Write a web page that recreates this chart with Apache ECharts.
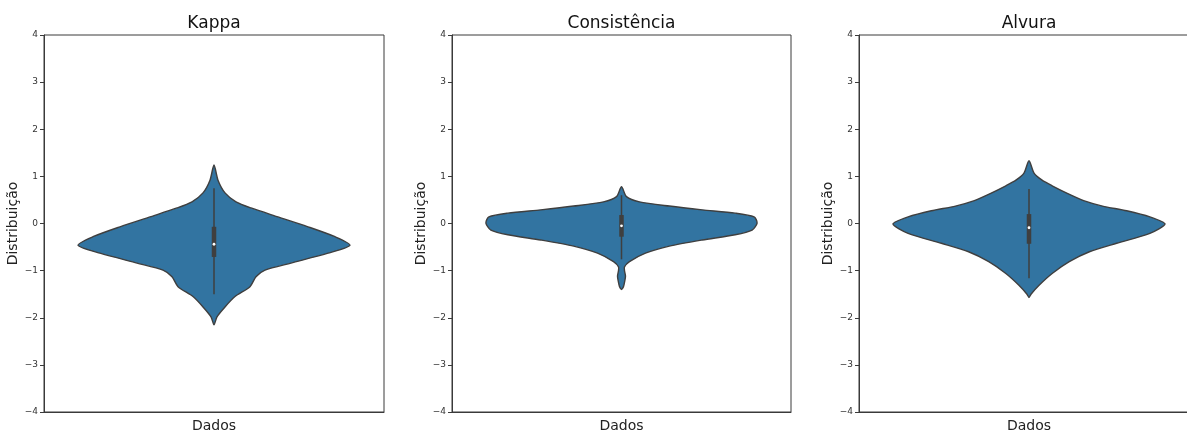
<!DOCTYPE html>
<html>
<head>
<meta charset="utf-8">
<script src="https://cdn.jsdelivr.net/npm/echarts@6/dist/echarts.min.js"></script>
<style>
  html, body { margin: 0; padding: 0; background: #fff; }
  #chart { width: 1187px; height: 432px; }
</style>
</head>
<body>
<div id="chart"></div>
<script>
// Panel titles and shared axis texts
const panelTitles = ['Kappa', 'Consistência', 'Alvura'];
const categories = ['Dados'];
const yAxisName = 'Distribuição';
const yTicks = [-4, -3, -2, -1, 0, 1, 2, 3, 4];

// Violin outlines: value on the y axis and kernel density (arbitrary units)
const kappaY = [1.24, 0.92, 0.65, 0.46, 0.33, 0.14, -0.07, -0.28, -0.46, -0.63, -0.84, -0.99, -1.13, -1.34, -1.55, -1.77, -1.98, -2.15];
const kappaD = [0, 4, 11, 22, 37, 64, 94, 121, 136, 114, 77, 51, 42, 36, 21, 11, 3, 0];

const consY = [0.78, 0.57, 0.46, 0.37, 0.29, 0.22, 0.14, 0.01, -0.14, -0.24, -0.35, -0.48, -0.63, -0.81, -0.92, -1.0, -1.12, -1.25, -1.34, -1.40];
const consD = [0, 5, 18, 48, 81, 114, 133, 136, 131, 114, 81, 48, 24, 8, 3, 3, 4, 3, 2, 0];

const alvY = [1.33, 1.07, 0.92, 0.80, 0.64, 0.48, 0.37, 0.27, 0.14, -0.01, -0.21, -0.42, -0.6, -0.81, -1.06, -1.31, -1.5, -1.57];
const alvD = [0, 5, 13, 23, 38, 55, 73, 97, 120, 135, 120, 87, 60, 40, 23, 10, 2, 0];

// Inner box: [lower whisker, Q1, median, Q3, upper whisker]
const kappaBox = [-1.5, -0.71, -0.44, -0.07, 0.75];
const consBox = [-0.76, -0.28, -0.05, 0.18, 0.6];
const alvBox = [-1.16, -0.43, -0.09, 0.2, 0.73];

const violins = [
  { y: kappaY, d: kappaD, box: kappaBox },
  { y: consY, d: consD, box: consBox },
  { y: alvY, d: alvD, box: alvBox }
];

const gridBoxes = [
  { left: 44, width: 340 },
  { left: 452, width: 339 },
  { left: 859, width: 340 }
];
const gridTop = 35, gridHeight = 377;

const FONT = '"DejaVu Sans", sans-serif';
const AXIS_COLOR = '#3a3a3a';
const VIOLIN_FILL = '#3274a1';
const VIOLIN_EDGE = '#3f3f3f';
const WIDTH_FRACTION = 0.4; // half of the 0.8 band width

const chart = echarts.init(document.getElementById('chart'), null, { renderer: 'canvas' });

function violinRenderer(v) {
  const maxD = Math.max.apply(null, v.d);
  return function (params, api) {
    const band = api.size([1, 0])[0];
    const scale = WIDTH_FRACTION * band / maxD;
    const right = [], left = [];
    for (let i = 0; i < v.y.length; i++) {
      const c = api.coord([0, v.y[i]]);
      right.push([c[0] + v.d[i] * scale, c[1]]);
      left.push([c[0] - v.d[i] * scale, c[1]]);
    }
    const pts = right.concat(left.slice(1, -1).reverse());
    const b = v.box;
    const lo = api.coord([0, b[0]]), q1 = api.coord([0, b[1]]),
          md = api.coord([0, b[2]]), q3 = api.coord([0, b[3]]),
          hi = api.coord([0, b[4]]);
    const bw = 4.5;
    return {
      type: 'group',
      children: [
        {
          type: 'polygon',
          shape: { points: pts, smooth: 0.25 },
          style: { fill: VIOLIN_FILL, stroke: VIOLIN_EDGE, lineWidth: 1.4 }
        },
        {
          type: 'line',
          shape: { x1: lo[0], y1: lo[1], x2: hi[0], y2: hi[1] },
          style: { stroke: VIOLIN_EDGE, lineWidth: 1.5 }
        },
        {
          type: 'rect',
          shape: { x: q3[0] - bw / 2, y: q3[1], width: bw, height: q1[1] - q3[1] },
          style: { fill: VIOLIN_EDGE }
        },
        {
          type: 'circle',
          shape: { cx: md[0], cy: md[1], r: 1.4 },
          style: { fill: '#ffffff' }
        }
      ]
    };
  };
}

const grids = [], xAxes = [], yAxes = [], series = [], graphics = [];

gridBoxes.forEach(function (g, i) {
  grids.push({
    left: g.left, width: g.width, top: gridTop, height: gridHeight,
    outerBoundsMode: 'none', containLabel: false,
    show: true, borderColor: AXIS_COLOR, borderWidth: 1, backgroundColor: '#ffffff'
  });
  xAxes.push({
    type: 'category', gridIndex: i, data: categories,
    axisLine: { onZero: false, lineStyle: { color: AXIS_COLOR, width: 1 } },
    axisTick: { alignWithLabel: true, length: 4, lineStyle: { color: AXIS_COLOR } },
    axisLabel: { fontFamily: FONT, fontSize: 14, color: '#222', margin: 7 },
    splitLine: { show: false }
  });
  yAxes.push({
    type: 'value', gridIndex: i, min: yTicks[0], max: yTicks[yTicks.length - 1], interval: 1,
    name: yAxisName, nameLocation: 'middle', nameGap: 21, nameRotate: 90,
    nameTextStyle: { fontFamily: FONT, fontSize: 14, color: '#222' },
    axisLine: { show: true, onZero: false, lineStyle: { color: AXIS_COLOR, width: 1 } },
    axisTick: { show: true, length: 4, lineStyle: { color: AXIS_COLOR } },
    axisLabel: {
      fontFamily: FONT, fontSize: 9, color: '#333', margin: 6,
      formatter: function (val) { return String(val).replace('-', '\u2212'); }
    },
    splitLine: { show: false }
  });
  series.push({
    type: 'custom', xAxisIndex: i, yAxisIndex: i,
    data: [[0, 0]],
    renderItem: violinRenderer(violins[i]),
    silent: true, clip: false
  });
  graphics.push({
    type: 'text',
    x: g.left + g.width / 2, y: 24,
    style: {
      text: panelTitles[i], fontFamily: FONT, fontSize: 17, fill: '#111',
      align: 'center', verticalAlign: 'middle'
    }
  });
});

chart.setOption({
  animation: false,
  backgroundColor: '#ffffff',
  grid: grids,
  xAxis: xAxes,
  yAxis: yAxes,
  series: series,
  graphic: graphics
});
</script>
</body>
</html>
